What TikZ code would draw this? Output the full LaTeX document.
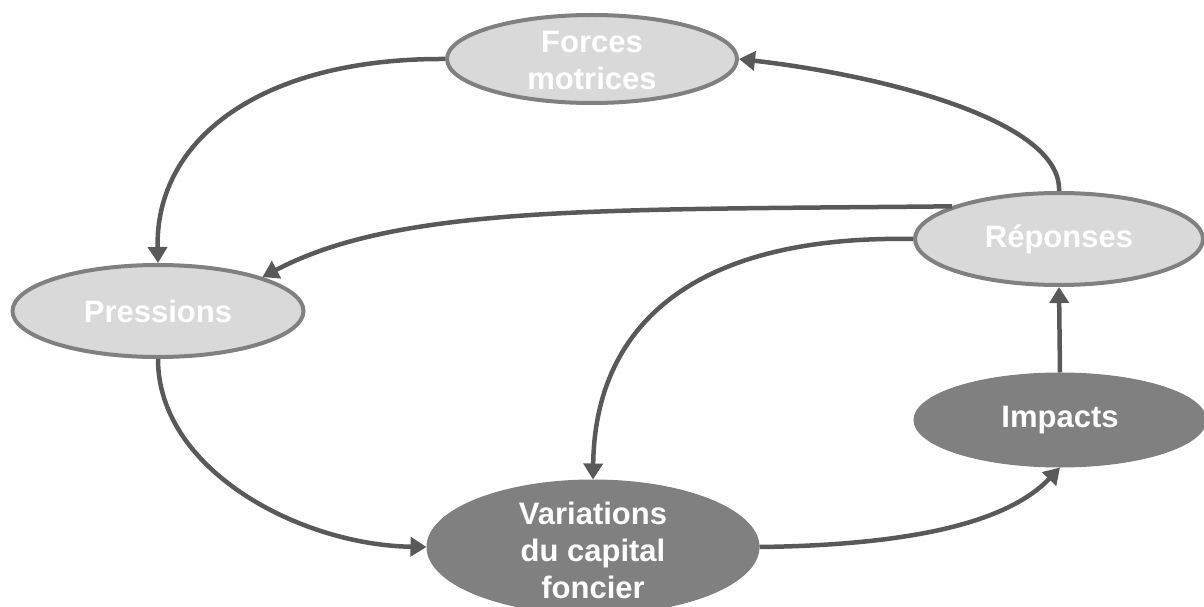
\documentclass[tikz,border=0pt]{standalone}
\usepackage{fontspec}
\setmainfont{Liberation Sans}
\usetikzlibrary{shapes.geometric,arrows.meta}
\definecolor{lightfill}{HTML}{D9D9D9}
\definecolor{midgray}{HTML}{808080}
\definecolor{linegray}{HTML}{595959}
\tikzset{
  lightell/.style={ellipse, draw=midgray, line width=4bp, fill=lightfill, inner sep=0pt},
  darkell/.style={ellipse, draw=midgray, line width=1bp, fill=midgray, inner sep=0pt},
  lbl/.style={text=white, font=\bfseries\fontsize{31bp}{37bp}\selectfont, align=center, inner sep=0pt},
  conn/.style={draw=linegray, line width=4.5bp, -{Triangle[length=16bp,width=19bp]}},
}
\begin{document}
\begin{tikzpicture}[x=1bp,y=-1bp]
\useasboundingbox (0,0) rectangle (1204,607);
\clip (0,0) rectangle (1204,607);
\node[lightell, minimum width=290bp, minimum height=88bp] (forces) at (592,59) {};
\node[lbl] (forcest) at (592,60) {Forces\\motrices};
\node[lightell, minimum width=288bp, minimum height=92bp] (rep) at (1059,239) {};
\node[lbl] (rept) at (rep.center) {Réponses};
\node[lightell, minimum width=291bp, minimum height=92bp] (press) at (158,311) {};
\node[lbl] (presst) at (press.center) {Pressions};
\node[darkell, minimum width=292bp, minimum height=94bp] (imp) at (1060,420) {};
\node[lbl] (impt) at (imp.center) {Impacts};
\node[darkell, minimum width=332bp, minimum height=134bp] (var) at (593,547) {};
\node[lbl] (vart) at (593,550) {Variations\\du capital\\foncier};

\draw[conn] (forces.west) .. controls (260,58) and (155,140) .. (press.north);
\draw[conn] (rep.north) .. controls (1062,120) and (880,75) .. (forces.east);
\draw[conn] (rep.163) .. controls (600,210) and (400,205) .. (press.18);
\draw[conn] (rep.west) .. controls (700,235) and (595,320) .. (var.north);
\draw[conn] (press.south) .. controls (158,470) and (300,545) .. (var.west);
\draw[conn] (var.east) .. controls (920,545) and (1010,520) .. (imp.south);
\draw[conn] (imp.north) -- (rep.south);
\end{tikzpicture}
\end{document}
